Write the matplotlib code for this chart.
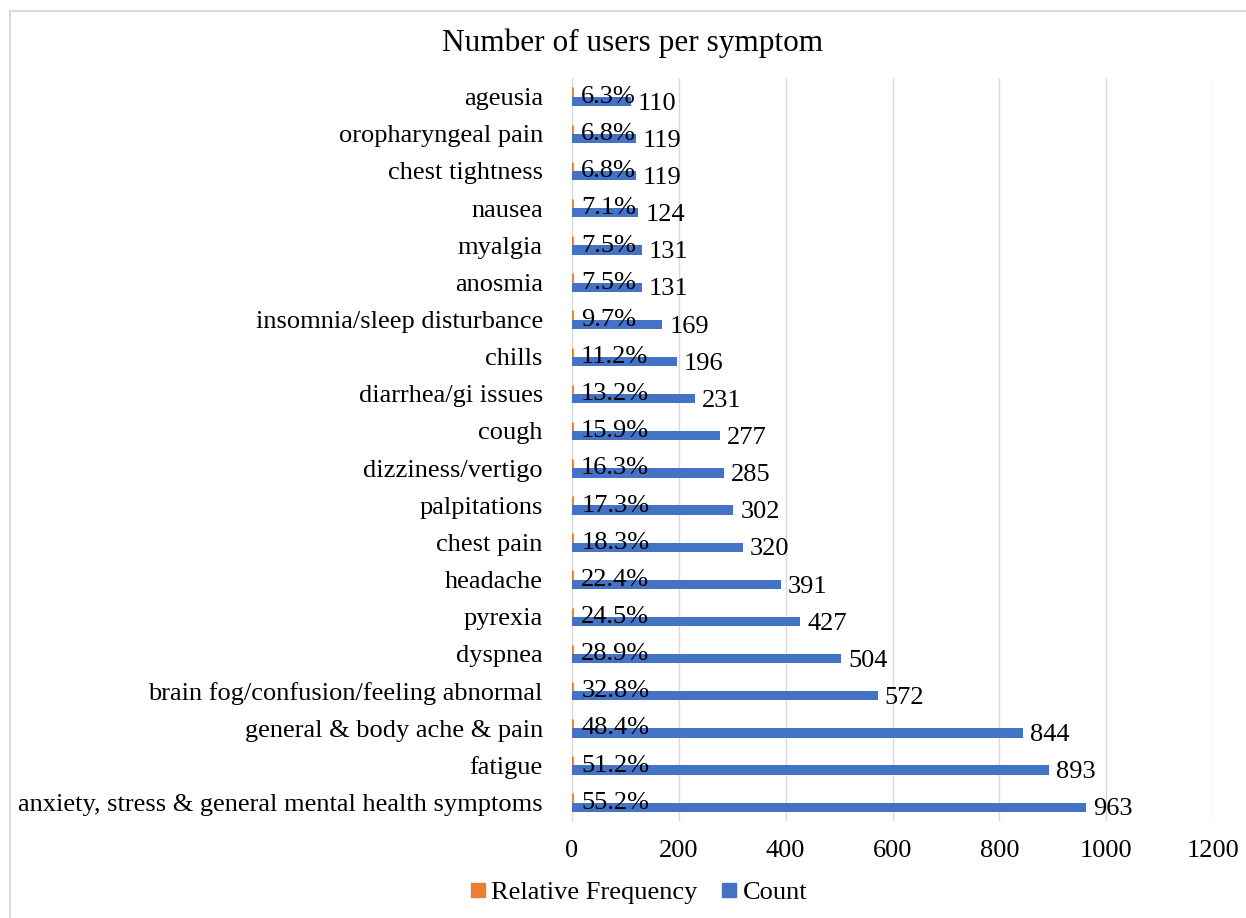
import numpy as np
import matplotlib.pyplot as plt
from matplotlib.lines import Line2D

symptoms = ['anxiety, stress & general mental health symptoms', 'fatigue',
            'general & body ache & pain', 'brain fog/confusion/feeling abnormal',
            'dyspnea', 'pyrexia', 'headache', 'chest pain', 'palpitations',
            'dizziness/vertigo', 'cough', 'diarrhea/gi issues', 'chills',
            'insomnia/sleep disturbance', 'anosmia', 'myalgia', 'nausea',
            'chest tightness', 'oropharyngeal pain', 'ageusia']
counts = [963, 893, 844, 572, 504, 427, 391, 320, 302, 285, 277, 231, 196,
          169, 131, 131, 124, 119, 119, 110]
rel_freq = [0.552, 0.512, 0.484, 0.328, 0.289, 0.245, 0.224, 0.183, 0.173,
            0.163, 0.159, 0.132, 0.112, 0.097, 0.075, 0.075, 0.071, 0.068,
            0.068, 0.063]

blue = '#4472C4'
orange = '#ED7D31'

plt.rcParams['font.family'] = ['Liberation Serif', 'DejaVu Serif']

fig = plt.figure(figsize=(12.46, 9.18), dpi=100)
ax = fig.add_axes([572 / 1246, 1 - 821 / 918, (1213 - 572) / 1246, (821 - 78) / 918])

y = np.arange(len(symptoms))
h = 0.25
ax.barh(y + 0.12, rel_freq, height=h, color=orange, edgecolor=orange,
        linewidth=2, label='Relative Frequency', zorder=3)
ax.barh(y - 0.13, counts, height=h, color=blue, label='Count', zorder=3)

for yi, c, r in zip(y, counts, rel_freq):
    ax.text(r + 17, yi - 0.01, f'{r * 100:.1f}%', va='center', ha='left', fontsize=19, zorder=4)
    ax.text(c + 13, yi - 0.19, str(c), va='center', ha='left', fontsize=19, zorder=4)

ax.set_xlim(0, 1200)
ax.set_ylim(-0.5, len(symptoms) - 0.5)
ax.set_xticks(range(0, 1201, 200))
ax.set_yticks(y)
ax.set_yticklabels(symptoms)
ax.tick_params(length=0, labelsize=19)
ax.tick_params(axis='y', pad=21)
ax.tick_params(axis='x', pad=14)
ax.grid(axis='x', color='#d9d9d9', linewidth=1)
ax.set_axisbelow(True)
for s in ['top', 'right', 'bottom']:
    ax.spines[s].set_visible(False)
ax.spines['left'].set_color('#d9d9d9')

fig.text(633 / 1246, 1 - 43 / 918, 'Number of users per symptom',
         ha='center', va='center', fontsize=22.5)

handles = [Line2D([], [], marker='s', color='none', markerfacecolor=orange,
                  markeredgecolor=orange, markersize=9.5),
           Line2D([], [], marker='s', color='none', markerfacecolor=blue,
                  markeredgecolor=blue, markersize=9.5)]
fig.legend(handles, ['Relative Frequency', 'Count'], loc='center',
           bbox_to_anchor=(636 / 1246, 1 - 892 / 918), ncol=2, frameon=False,
           fontsize=19, handletextpad=0.0, columnspacing=0.7, handlelength=1)

# chart area border
fig.add_artist(Line2D([10 / 1246, 1], [1 - 11 / 918, 1 - 11 / 918],
                      color='#d9d9d9', linewidth=1.5))
fig.add_artist(Line2D([10 / 1246, 10 / 1246], [0, 1 - 11 / 918],
                      color='#d9d9d9', linewidth=1.5))

fig.savefig('out.png', dpi=100)
